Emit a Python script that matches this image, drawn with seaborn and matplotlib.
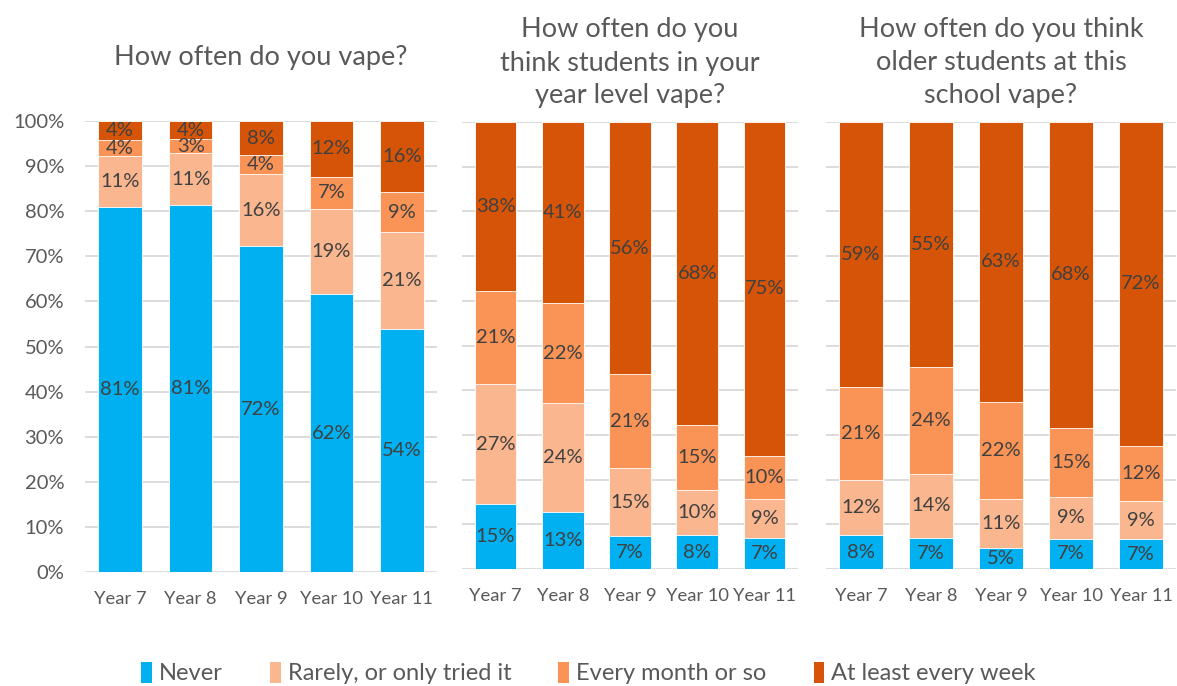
import matplotlib
matplotlib.use("Agg")
import matplotlib.pyplot as plt
import seaborn as sns
import pandas as pd
import numpy as np
from matplotlib.patches import Patch

years = ["Year 7", "Year 8", "Year 9", "Year 10", "Year 11"]
categories = ["Never", "Rarely, or only tried it", "Every month or so", "At least every week"]
colors = ["#00B0F0", "#FAB78F", "#F99356", "#D65407"]

titles = [
    "How often do you vape?",
    "How often do you\nthink students in your\nyear level vape?",
    "How often do you think\nolder students at this\nschool vape?",
]

# panel 1: How often do you vape?
self_never   = [80.9, 81.4, 72.2, 61.6, 53.9]
self_rarely  = [11.3, 11.4, 16.0, 18.9, 21.4]
self_monthly = [3.5, 3.2, 4.2, 7.1, 8.9]
self_weekly  = [4.3, 4.0, 7.6, 12.4, 15.8]

# panel 2: students in your year level
year_never   = [14.6, 12.8, 7.3, 7.6, 6.9]
year_rarely  = [26.7, 24.4, 15.2, 10.0, 8.7]
year_monthly = [21.0, 22.2, 21.1, 14.7, 9.7]
year_weekly  = [37.7, 40.6, 56.4, 67.7, 74.7]

# panel 3: older students at this school
older_never   = [7.6, 6.9, 4.8, 6.8, 6.6]
older_rarely  = [12.2, 14.4, 10.9, 9.4, 8.6]
older_monthly = [20.9, 24.0, 21.7, 15.4, 12.4]
older_weekly  = [59.3, 54.7, 62.6, 68.4, 72.4]

panels = [
    [self_never, self_rarely, self_monthly, self_weekly],
    [year_never, year_rarely, year_monthly, year_weekly],
    [older_never, older_rarely, older_monthly, older_weekly],
]

sns.set_theme(style="white")
plt.rcParams['font.family'] = ['Lato', 'DejaVu Sans']

fig = plt.figure(figsize=(11.77, 6.86), dpi=100)
W, H = 1177, 686
boxes = [(85, 121, 437, 572), (462, 122, 798, 569), (826, 122, 1176, 569)]
title_y = [57, 63, 62]

text_col = "#404040"
tick_col = "#595959"
grid_col = "#D9D9D9"

for i, (box, series) in enumerate(zip(boxes, panels)):
    x0, y0, x1, y1 = box
    ax = fig.add_axes([x0 / W, 1 - y1 / H, (x1 - x0) / W, (y1 - y0) / H])
    df = pd.DataFrame({"year": years})
    for c, s in zip(categories, series):
        df[c] = s
    cum = df[categories].cumsum(axis=1)
    # draw from top cumulative to bottom so segments stack
    for k in range(len(categories) - 1, -1, -1):
        sns.barplot(x=df["year"], y=cum[categories[k]], color=colors[k], ax=ax,
                    width=0.62, saturation=1, order=years,
                    edgecolor="white", linewidth=0.6, zorder=3)
    # labels
    for j in range(len(years)):
        for k, c in enumerate(categories):
            v = df.loc[j, c]
            mid = cum.loc[j, c] - v / 2
            ax.text(j, mid, f"{round(v):d}%", ha="center", va="center",
                    fontsize=14.5, color=text_col, zorder=5)
    ax.set_ylim(0, 100)
    ax.set_xlim(-0.5, 4.5)
    ax.set_xlabel("")
    ax.set_ylabel("")
    ax.set_yticks(np.arange(0, 101, 10))
    ax.grid(axis="y", color=grid_col, linewidth=1.3, zorder=0)
    ax.set_axisbelow(True)
    for sp in ax.spines.values():
        sp.set_visible(False)
    ax.tick_params(axis="x", length=0, pad=14, labelsize=13.2, labelcolor=tick_col)
    if i == 0:
        ax.set_yticklabels([f"{t}%" for t in range(0, 101, 10)])
        ax.tick_params(axis="y", length=0, pad=15, labelsize=14.5, labelcolor=tick_col)
    else:
        ax.set_yticklabels([])
        ax.tick_params(axis="y", length=0)
    cx = (x0 + x1) / 2
    fig.text(cx / W, 1 - title_y[i] / H, titles[i], ha="center", va="center",
             fontsize=19.5, color=tick_col, linespacing=1.4)

handles = [Patch(facecolor=c, edgecolor="none") for c in colors]
fig.legend(handles, categories, loc="center", bbox_to_anchor=(0.5, 1 - 673 / H),
           ncol=4, frameon=False, fontsize=17, handlelength=0.45, handleheight=1.0,
           handletextpad=0.3, columnspacing=2.0, labelcolor=tick_col)

fig.savefig("out.png", dpi=100)
